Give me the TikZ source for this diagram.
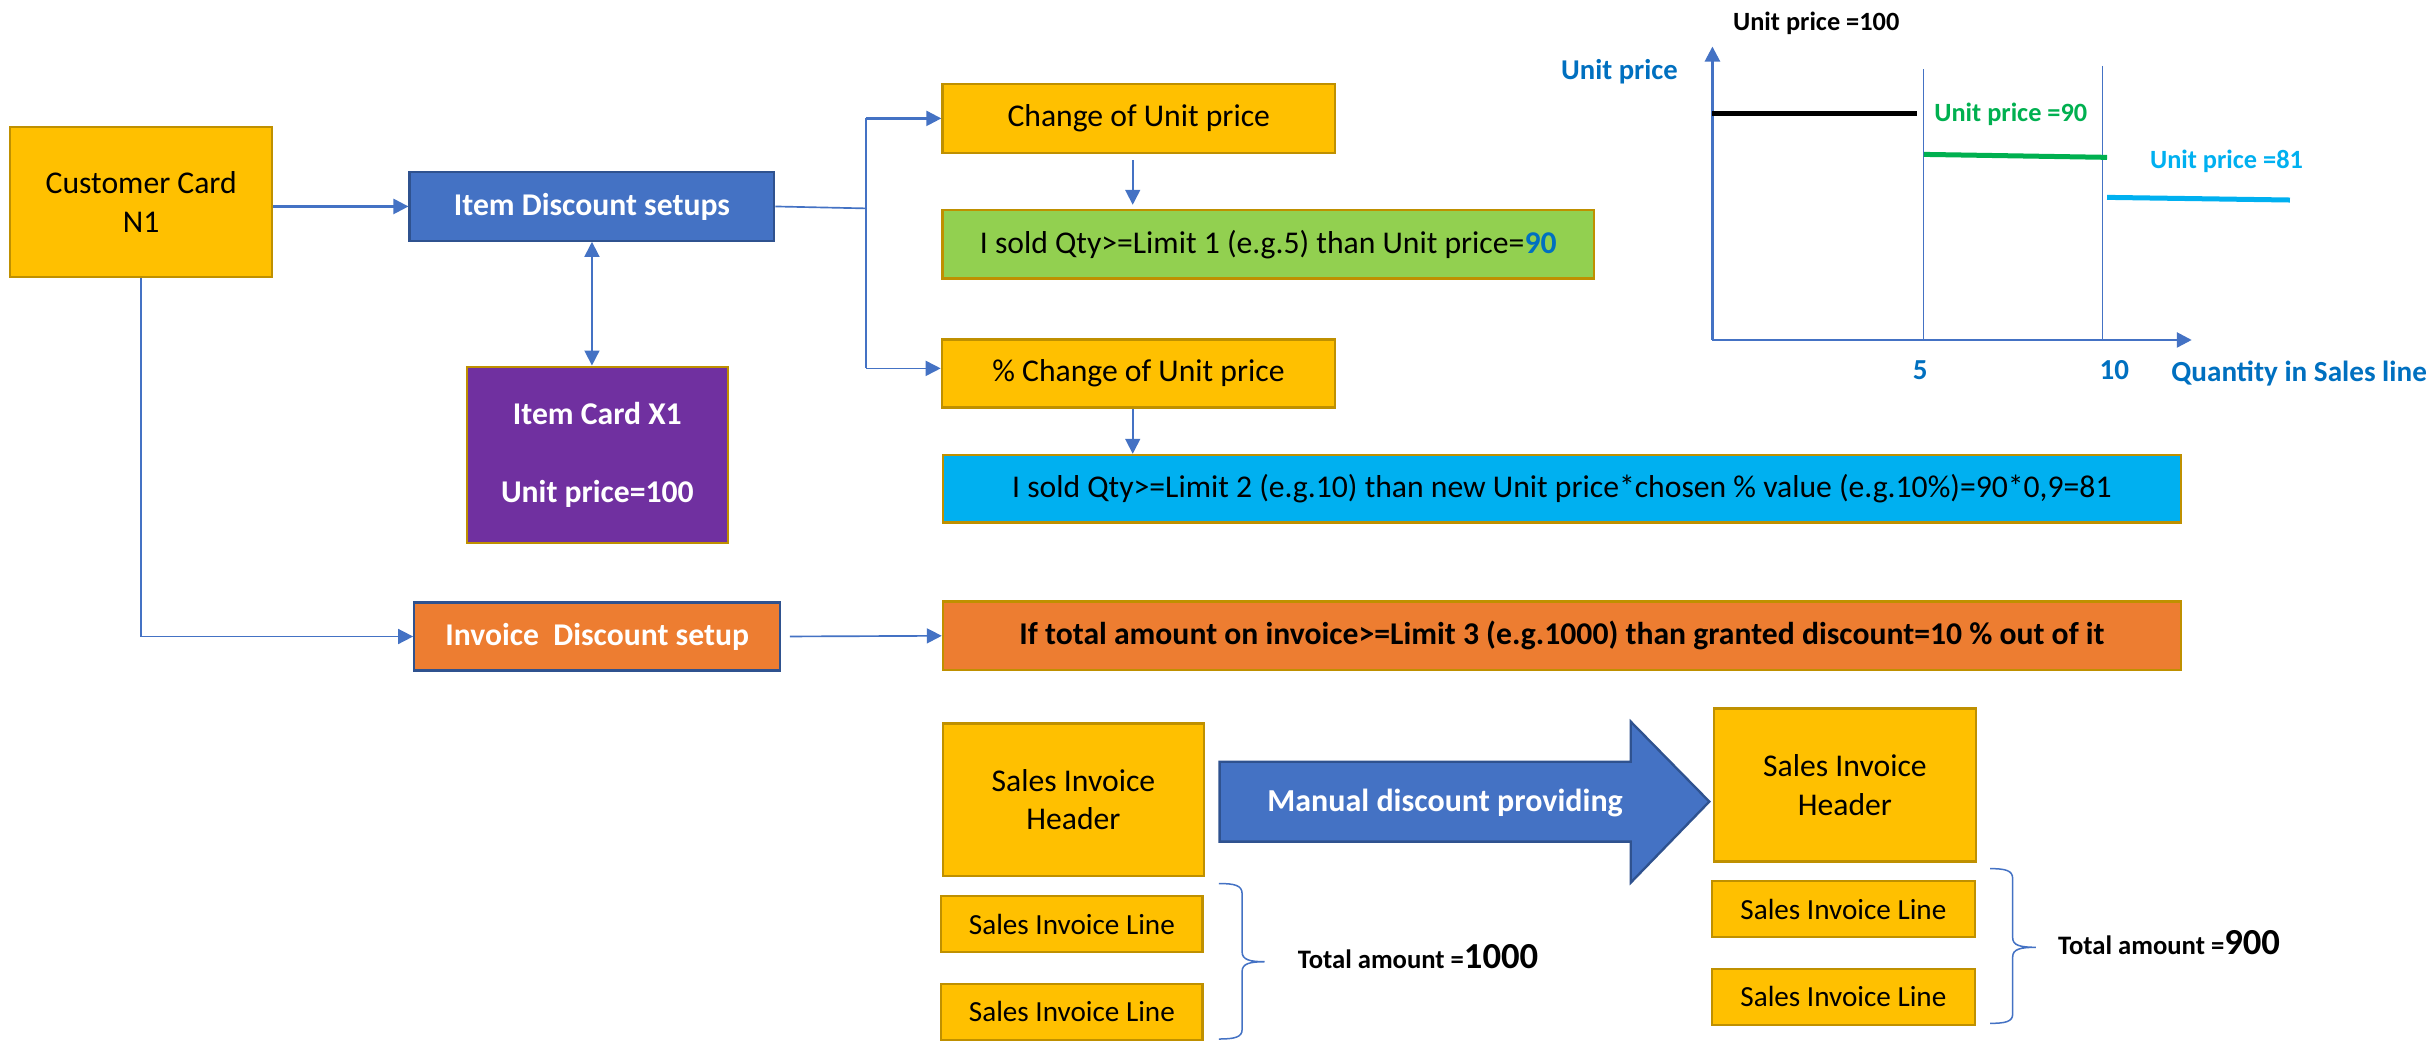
\documentclass[tikz,border=0pt]{standalone}
\usepackage{fontspec}
\setmainfont{Carlito}
\usetikzlibrary{arrows.meta}
\definecolor{gold}{HTML}{FFC000}
\definecolor{goldd}{HTML}{BF9000}
\definecolor{blueA}{HTML}{4472C4}
\definecolor{blueD}{HTML}{2F528F}
\definecolor{purp}{HTML}{7030A0}
\definecolor{grnbox}{HTML}{92D050}
\definecolor{cyn}{HTML}{00B0F0}
\definecolor{orng}{HTML}{ED7D31}
\definecolor{txtblue}{HTML}{0070C0}
\definecolor{lgreen}{HTML}{00B050}
\newcommand\fsz[2][11.6]{\fontsize{#2}{#1}\selectfont}
\begin{document}
\begin{tikzpicture}[x=0.46548pt,y=-0.46548pt,
  sz/.style 2 args={minimum width=#1*0.46548pt,minimum height=#2*0.46548pt},
  box/.style={draw=goldd,line width=0.7pt,inner sep=0pt,align=center,font=\fsz{9.5}},
  goldbox/.style={box,fill=gold},
  bluebox/.style={box,fill=blueA,draw=blueD,text=white,font=\fsz{9.5}\bfseries},
  conn/.style={draw=blueA,line width=0.5pt},
  arr/.style={conn,-{Triangle[length=4.5pt,width=4.5pt]}},
  darr/.style={conn,{Triangle[length=4.5pt,width=4.5pt]}-{Triangle[length=4.5pt,width=4.5pt]}},
  axis/.style={draw=blueA,line width=0.8pt,-{Triangle[length=4.5pt,width=4.5pt]}},
  gridl/.style={draw=blueA,line width=0.35pt},
  lbl/.style={inner sep=0pt,anchor=west,font=\fsz{7.9}\bfseries},
  axlbl/.style={inner sep=0pt,text=txtblue,font=\fsz{8.7}\bfseries},
  brace/.style={draw=blueA,line width=0.45pt},
  total/.style={inner sep=0pt,anchor=base west}
]
\fill[white] (0,0) rectangle (1568,672.8);

% left part
\node[goldbox,sz={168.7}{96.7}] (cc) at (91,130) {Customer Card\\N1};
\node[bluebox,sz={235}{44.1}] (ids) at (381.5,133.05) {Item Discount setups};
\node[box,fill=purp,text=white,font=\fsz{9.5}\bfseries,sz={168.4}{113.8}] (ic) at (385,293.2) {Item Card X1\\[11.6pt]Unit price=100};
\node[bluebox,fill=orng,sz={235.7}{44}] (ids2) at (384.85,410.2) {Invoice\ \ Discount setup};

% middle boxes
\node[goldbox,sz={253}{44.3}] (cup) at (733.9,76.25) {Change of Unit price};
\node[box,fill=grnbox,sz={419.9}{44.1}] (g1) at (817.35,157.35) {I sold Qty>=Limit 1 (e.g.5) than Unit price={\bfseries\color{txtblue}90}};
\node[goldbox,sz={253.4}{44}] (pcup) at (733.7,240.7) {\% Change of Unit price};
\node[box,fill=cyn,sz={797.8}{43.6}] (b2) at (1006.6,315) {I sold Qty>=Limit 2 (e.g.10) than new Unit price*chosen \% value (e.g.10\%)=90*0,9=81};
\node[box,fill=orng,font=\fsz{9.5}\bfseries,sz={797.8}{44.1}] (o3) at (1006.6,409.75) {If total amount on invoice>=Limit 3 (e.g.1000) than granted discount=10 \% out of it};

% connectors
\coordinate (jm) at (558.2,134.3);
\coordinate (jt) at (558.2,76.3);
\coordinate (jb) at (558.2,237.4);
\coordinate (xa) at (730,0);
\draw[arr,line width=0.7pt] (cc.east|-ids.west) -- (ids.west);
\draw[darr] (ids.south) -- (ids.south|-ic.north);
\draw[arr] (cc.south) |- (ids2.west);
\draw[conn] (ids.east) -- (jm);
\draw[conn] (jt) -- (jb);
\draw[arr,line width=0.7pt] (jt) -- (cup.west|-jt);
\draw[arr] (jb) -- (pcup.west|-jb);
\draw[arr,shorten <=1.9pt,shorten >=1.2pt] (cup.south-|xa) -- (g1.north-|xa);
\draw[arr] (pcup.south-|xa) -- (b2.north-|xa);
\draw[arr,shorten <=2.6pt] (ids2.east) -- (o3.west);

% chart
\coordinate (O) at (1103.6,219.1);
\coordinate (ytop) at (1103.6,30);
\coordinate (xend) at (1412.5,219.1);
\draw[gridl] (1239.8,44.5) -- (1239.8,219.1);
\draw[gridl] (1355,42.5) -- (1355,219.1);
\draw[axis] (O) -- (ytop);
\draw[axis] (O) -- (xend);
\draw[black,line width=1.6pt] (1103.6,73) -- (1235.4,73);
\draw[lgreen,line width=1.5pt] (1239.8,99.5) -- (1357.9,101.4);
\draw[cyn,line width=1.5pt] (1357.9,127.2) -- (1475.8,128.9);
\node[lbl] (l100) at (1116.5,15) {Unit price =100};
\node[lbl,text=txtblue,font=\fsz{8.6}\bfseries] (lyax) at (1005.7,46.2) {Unit price};
\node[lbl,text=lgreen] (l90) at (1246.2,73.7) {Unit price =90};
\node[lbl,text=cyn] (l81) at (1385.2,103.8) {Unit price =81};
\node[axlbl] (t5) at (1237.5,238.4) {5};
\node[axlbl] (t10) at (1362.6,238.4) {10};
\node[axlbl,anchor=west,font=\fsz{8.75}\bfseries] (qty) at (1399,240.6) {Quantity in Sales line};

% bottom left invoice
\node[goldbox,sz={168.2}{98.3}] (sh1) at (691.8,515.35) {Sales Invoice\\Header};
\node[goldbox,font=\fsz{8.75},sz={168.4}{36.3}] (sl1a) at (690.8,595.55) {Sales Invoice Line};
\node[goldbox,font=\fsz{8.75},sz={168.4}{36.1}] (sl1b) at (690.8,652.15) {Sales Invoice Line};
\draw[brace] (785.5,569.4) .. controls (795.5,569.4) and (800.5,570.5) .. (800.5,576) -- (800.5,613.5)
  .. controls (800.5,618.5) and (805.5,619.8) .. (815,619.8)
  .. controls (805.5,619.8) and (800.5,621) .. (800.5,626) -- (800.5,663.5)
  .. controls (800.5,668.5) and (795.5,669.6) .. (785.5,669.6);
\node[total] (tot1) at (836,624) {\fsz{8.0}\bfseries Total amount =\fsz{11.0}\bfseries 1000};

% big arrow
\draw[fill=blueA,draw=blueD,line width=0.7pt] (786,490.9) -- (1051,490.9) -- (1051,465.1) -- (1101.6,516.6) -- (1051,568.8) -- (1051,542.4) -- (786,542.4) -- cycle;
\node[inner sep=0pt,text=white,font=\fsz{9.6}\bfseries] (mdp) at (931.3,517.7) {Manual discount providing};

% bottom right invoice
\node[goldbox,sz={168.9}{98.8}] (sh2) at (1189,505.9) {Sales Invoice\\Header};
\node[goldbox,font=\fsz{8.75},sz={169.3}{36.2}] (sl2a) at (1188,585.9) {Sales Invoice Line};
\node[goldbox,font=\fsz{8.75},sz={169.3}{36.3}] (sl2b) at (1188,642.45) {Sales Invoice Line};
\draw[brace] (1282.5,559.8) .. controls (1292.3,559.8) and (1297.1,560.9) .. (1297.1,566.2) -- (1297.1,604.3)
  .. controls (1297.1,609.3) and (1302,610.5) .. (1312.1,610.5)
  .. controls (1302,610.5) and (1297.1,611.7) .. (1297.1,616.7) -- (1297.1,653.5)
  .. controls (1297.1,658.5) and (1292.3,659.5) .. (1282.5,659.5);
\node[total] (tot2) at (1326,615) {\fsz{8.0}\bfseries Total amount =\fsz{11.0}\bfseries 900};
\end{tikzpicture}
\end{document}
